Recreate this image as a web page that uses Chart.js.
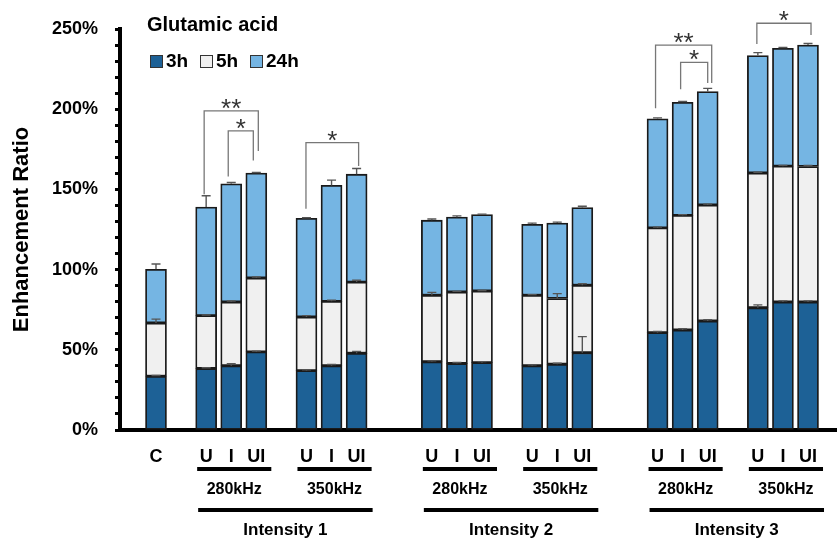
<!DOCTYPE html>
<html><head><meta charset="utf-8">
<script src="https://cdn.jsdelivr.net/npm/chart.js@4.4.0/dist/chart.umd.min.js"></script>
<style>html,body{margin:0;padding:0;background:#fff;}#wrap{width:837px;height:541px;}</style>
</head><body><div id="wrap"><canvas id="c" width="837" height="541"></canvas></div>
<script>
// ---- data ----
const categories = ['C','U','I','UI','U','I','UI','U','I','UI','U','I','UI','U','I','UI','U','I','UI'];
const slotPositions = [0,2,3,4,6,7,8,11,12,13,15,16,17,20,21,22,24,25,26];
const seriesNames = ['3h','5h','24h'];
// segment heights (%)
const values3h  = [33.5,38.3,40.0,48.7,37.0,40.0,47.8,42.5,41.5,42.0,40.0,41.0,48.2,60.7,62.4,68.0,76.2,79.8,79.8];
const values5h  = [33.2,33.0,39.8,46.1,33.5,40.2,44.4,41.5,44.5,44.6,44.0,41.0,42.0,65.3,71.4,72.3,84.0,84.7,84.5];
const values24h = [33.5,67.7,73.7,65.4,61.5,72.3,67.3,46.8,46.7,47.7,44.2,47.0,48.5,68.0,70.5,70.7,73.3,73.5,75.7];
// error bars (%)
const err3h  = [0.5,0.5,1.3,0.5,0.5,0.8,1.2,0.6,0.6,0.6,0.6,0.6,10.0,0.7,0.7,0.7,1.8,0.7,0.7];
const err5h  = [2.4,0.4,0.6,0.6,0.8,0.8,1.2,1.8,0.4,0.4,0.4,3.0,1.0,0.5,0.5,0.5,0.5,0.5,0.7];
const err24h = [3.3,7.0,0.8,0.3,0.3,3.3,3.5,0.7,0.8,0.3,0.8,0.6,0.8,0.6,0.5,2.0,1.8,0.5,1.0];
const yTickStep = 10;
const yLabelStep = 50;
const chartTitle = 'Glutamic acid';
const yTitle = 'Enhancement Ratio';
const freqGroups = [
  {label:'280kHz', from:1, to:3}, {label:'350kHz', from:4, to:6},
  {label:'280kHz', from:7, to:9}, {label:'350kHz', from:10, to:12},
  {label:'280kHz', from:13, to:15}, {label:'350kHz', from:16, to:18}
];
const intensityGroups = [
  {label:'Intensity 1', from:1, to:6},
  {label:'Intensity 2', from:7, to:12},
  {label:'Intensity 3', from:13, to:18}
];
// significance brackets: bar indices, bracket top and end levels (%)
const sigBrackets = [
  {label:'**', from:1, to:3, top:199, fromEnd:147, toEnd:174, dl:-2, dr:2},
  {label:'*',  from:2, to:3, top:186.5, fromEnd:158, toEnd:168, dl:-3, dr:-3},
  {label:'*',  from:4, to:6, top:179.2, fromEnd:138, toEnd:164.6, dl:-0.5, dr:2},
  {label:'**', from:13, to:15, top:240, fromEnd:200.6, toEnd:216.3, dl:-2, dr:4},
  {label:'*',  from:14, to:15, top:229.2, fromEnd:212.5, toEnd:216.3, dl:-2, dr:0},
  {label:'*',  from:16, to:18, top:253.6, fromEnd:240.6, toEnd:246.3, dl:-1, dr:3}
];

const colors = ['#1d6196','#f0f0f0','#75b5e3'];
const FONT = 'Arial, "Liberation Sans", sans-serif';
const seriesVals = [values3h, values5h, values24h];
const seriesErr = [err3h, err5h, err24h];

const datasets = seriesNames.map((n, d) => ({
  label: n,
  data: slotPositions.map((x, i) => ({x: x, y: seriesVals[d][i]})),
  backgroundColor: colors[d],
  borderColor: '#1a1a1a',
  borderWidth: 1.8,
  borderSkipped: false,
  barThickness: 21
}));

const annot = {
  id: 'annot',
  afterDatasetsDraw(chart) {
    const ctx = chart.ctx, xs = chart.scales.x, ys = chart.scales.y, ca = chart.chartArea;
    ctx.save();
    // error bars
    ctx.strokeStyle = '#555'; ctx.lineWidth = 1.4;
    for (let j = 0; j < slotPositions.length; j++) {
      let cum = 0;
      for (let d = 0; d < 3; d++) {
        cum += seriesVals[d][j];
        const e = seriesErr[d][j];
        const px = xs.getPixelForValue(slotPositions[j]);
        const y0 = ys.getPixelForValue(cum), y1 = ys.getPixelForValue(cum + e);
        ctx.beginPath();
        ctx.moveTo(px, y0); ctx.lineTo(px, y1);
        ctx.moveTo(px - 4.5, y1); ctx.lineTo(px + 4.5, y1);
        ctx.stroke();
      }
    }
    // brackets
    ctx.strokeStyle = '#777'; ctx.lineWidth = 1.3;
    ctx.fillStyle = '#333';
    ctx.font = '26px ' + FONT;
    ctx.textAlign = 'center'; ctx.textBaseline = 'alphabetic';
    sigBrackets.forEach(b => {
      const xl = xs.getPixelForValue(slotPositions[b.from]) + b.dl;
      const xr = xs.getPixelForValue(slotPositions[b.to]) + b.dr;
      const yt = ys.getPixelForValue(b.top);
      ctx.beginPath();
      ctx.moveTo(xl, ys.getPixelForValue(b.fromEnd));
      ctx.lineTo(xl, yt); ctx.lineTo(xr, yt);
      ctx.lineTo(xr, ys.getPixelForValue(b.toEnd));
      ctx.stroke();
      ctx.fillText(b.label, (xl + xr) / 2, yt + 6);
    });
    // group lines & labels
    ctx.fillStyle = '#000'; ctx.strokeStyle = '#000'; ctx.lineWidth = 4;
    ctx.textBaseline = 'middle';
    ctx.font = 'bold 16px ' + FONT;
    freqGroups.forEach(g => {
      const a = xs.getPixelForValue(slotPositions[g.from]) - 9;
      const b = xs.getPixelForValue(slotPositions[g.to]) + 15;
      const y = ca.bottom + 39;
      ctx.beginPath(); ctx.moveTo(a, y); ctx.lineTo(b, y); ctx.stroke();
      ctx.fillText(g.label, (a + b) / 2, ca.bottom + 60);
    });
    ctx.font = 'bold 17px ' + FONT;
    intensityGroups.forEach(g => {
      const a = xs.getPixelForValue(slotPositions[g.from]) - 8;
      const b = xs.getPixelForValue(slotPositions[g.to]) + 16;
      const y = ca.bottom + 80;
      ctx.beginPath(); ctx.moveTo(a, y); ctx.lineTo(b, y); ctx.stroke();
      ctx.fillText(g.label, (a + b) / 2, ca.bottom + 100);
    });
    // title + legend
    ctx.textAlign = 'left';
    ctx.font = 'bold 20px ' + FONT;
    ctx.fillText(chartTitle, ca.left + 27, 25);
    ctx.font = 'bold 19px ' + FONT;
    let lx = ca.left + 30;
    seriesNames.forEach((n, d) => {
      ctx.fillStyle = colors[d]; ctx.strokeStyle = '#333'; ctx.lineWidth = 1;
      ctx.fillRect(lx, 55, 13, 13); ctx.strokeRect(lx + 0.5, 55.5, 12, 12);
      ctx.fillStyle = '#000';
      ctx.fillText(n, lx + 16, 62);
      lx += 50;
    });
    ctx.restore();
  }
};

new Chart(document.getElementById('c'), {
  type: 'bar',
  data: { datasets },
  plugins: [annot],
  options: {
    responsive: false, animation: false,
    layout: { padding: { top: 29, right: 0, left: 0, bottom: 0 } },
    plugins: { legend: { display: false }, tooltip: { enabled: false } },
    scales: {
      x: {
        type: 'linear', stacked: true, min: -1.4356, max: 27.156, offset: false,
        grid: { display: false, drawTicks: false, offset: false },
        border: { display: true, color: '#000', width: 4 },
        afterBuildTicks: s => { s.ticks = slotPositions.map(v => ({ value: v })); },
        ticks: { autoSkip: false, maxRotation: 0, padding: 16, color: '#000',
          font: { family: FONT, size: 18, weight: 'bold' },
          callback: (v, i) => categories[i] },
        afterFit: s => { s.height = 111; }
      },
      y: {
        stacked: true, min: 0, max: 250,
        ticks: { stepSize: yTickStep, autoSkip: false, padding: 17, color: '#000',
          font: { family: FONT, size: 18, weight: 'bold' },
          callback: v => (v % yLabelStep === 0 ? v + '%' : '') },
        grid: { drawOnChartArea: false, drawTicks: true, tickLength: 5, tickWidth: 3, color: '#000' },
        border: { display: true, color: '#000', width: 4 },
        title: { display: true, text: yTitle, color: '#000',
          font: { family: FONT, size: 22, weight: 'bold' }, padding: { top: 9, bottom: 0 } },
        afterFit: s => { s.width = 120; }
      }
    }
  }
});
</script>
</body></html>
